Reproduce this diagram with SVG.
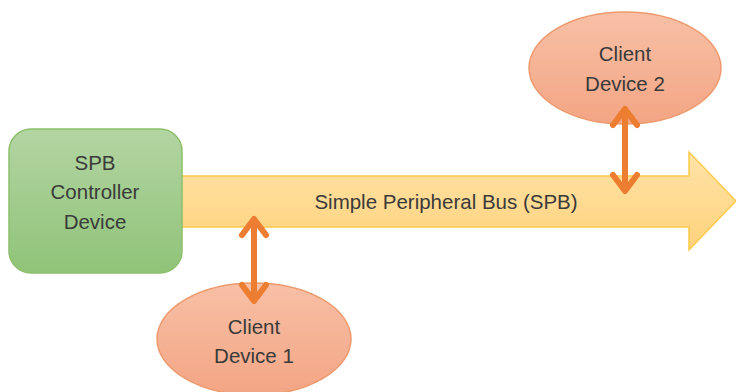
<svg xmlns="http://www.w3.org/2000/svg" width="736" height="392" viewBox="0 0 736 392">
<defs>
<linearGradient id="gGreen" x1="0" y1="0" x2="0" y2="1"><stop offset="0" stop-color="#b3d5a3"/><stop offset="1" stop-color="#90c378"/></linearGradient>
<linearGradient id="gBus" x1="0" y1="0" x2="0" y2="1"><stop offset="0" stop-color="#ffe3a8"/><stop offset="1" stop-color="#ffd27c"/></linearGradient>
<linearGradient id="gClient" x1="0" y1="0" x2="0" y2="1"><stop offset="0" stop-color="#f8c0a6"/><stop offset="1" stop-color="#f3a584"/></linearGradient>
<style>
.t{font-family:"Liberation Sans","Open Sans",Arial,sans-serif;font-size:20.5px;fill:#3a3a3a;text-anchor:middle}
.conn{stroke:#ed7d31;stroke-width:6;fill:none;stroke-linecap:round;stroke-linejoin:round}
</style>
</defs>
<g id="bus">
<path d="M170,176 L689,176 L689,152 L736,201 L689,250 L689,227 L170,227 Z" fill="url(#gBus)" stroke="#ffc94a" stroke-width="1.5"/>
<text class="t" x="446" y="209">Simple Peripheral Bus (SPB)</text>
</g>
<g id="controller">
<rect x="9" y="129" width="173" height="144" rx="22" fill="url(#gGreen)" stroke="#8cc06c" stroke-width="1.5"/>
<text class="t" x="95" y="170">SPB</text>
<text class="t" x="95" y="199">Controller</text>
<text class="t" x="95" y="229">Device</text>
</g>
<g id="client1">
<ellipse cx="254" cy="339" rx="97" ry="56" fill="url(#gClient)" stroke="#ee9a6e" stroke-width="1.5"/>
<text class="t" x="254" y="334">Client</text>
<text class="t" x="254" y="363">Device 1</text>
</g>
<g id="client2">
<ellipse cx="625" cy="68" rx="96" ry="56" fill="url(#gClient)" stroke="#ee9a6e" stroke-width="1.5"/>
<text class="t" x="625" y="61">Client</text>
<text class="t" x="625" y="91">Device 2</text>
</g>
<g id="connectors">
<path class="conn" d="M254,221 L254,299 M242,235 L254,219 L266,235 M242,285 L254,301 L266,285"/>
<path class="conn" d="M625,111 L625,189 M613,125 L625,109 L637,125 M613,175 L625,191 L637,175"/>
</g>
</svg>
